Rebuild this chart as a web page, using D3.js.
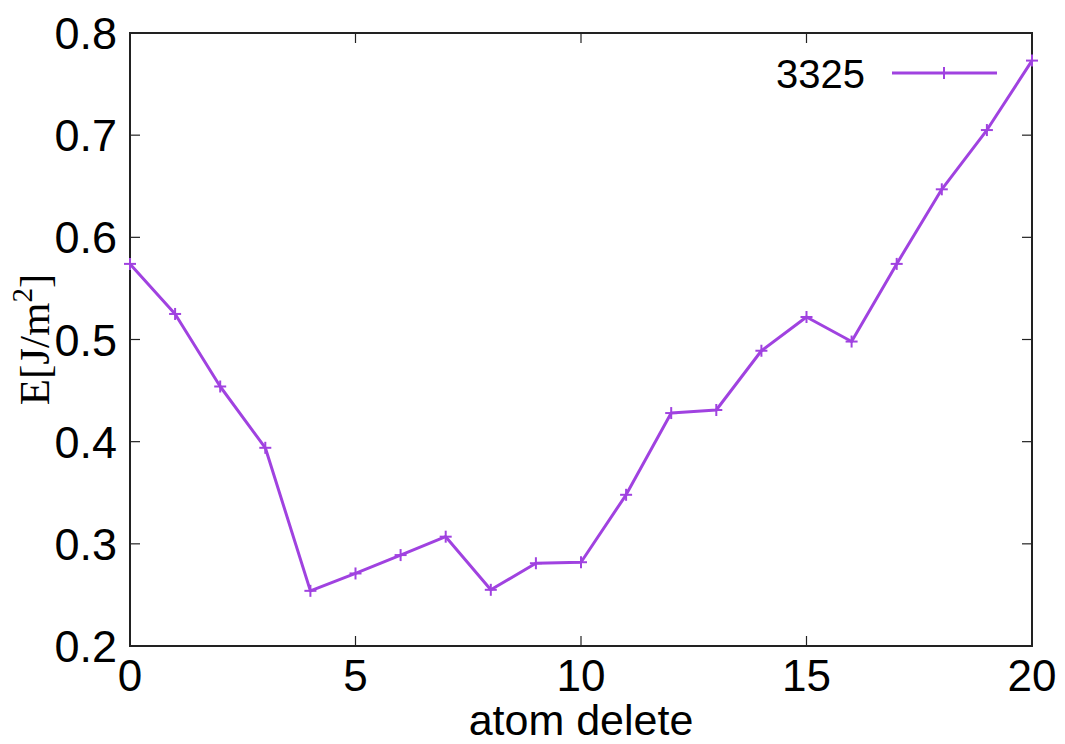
<!DOCTYPE html>
<html>
<head>
<meta charset="utf-8">
<title>atom delete</title>
<script src="https://d3js.org/d3.v7.min.js"></script>
<style>
  body { margin: 0; background: #fff; }
  text { font-family: "Liberation Sans", Arial, sans-serif; fill: #000; }
</style>
</head>
<body>
<script>
// values
var atomDelete = [0,1,2,3,4,5,6,7,8,9,10,11,12,13,14,15,16,17,18,19,20];
var energy = [0.574,0.525,0.454,0.394,0.254,0.271,0.289,0.307,0.255,0.281,0.282,
              0.348,0.428,0.431,0.489,0.522,0.498,0.574,0.647,0.705,0.773];
var xTicks = [0,5,10,15,20];
var yTicks = [0.2,0.3,0.4,0.5,0.6,0.7,0.8];
var seriesName = "3325";

var W = 1065, H = 744;
var pL = 130, pR = 1032, pT = 33, pB = 646;
var lineColor = "#a042e0";

var svg = d3.select("body").append("svg")
  .attr("width", W)
  .attr("height", H);

var x = d3.scaleLinear().domain([0,20]).range([pL, pR]);
var y = d3.scaleLinear().domain([0.2,0.8]).range([pB, pT]);

// ticks, inward and mirrored on all sides
var tk = 10;
var axisG = svg.append("g").attr("stroke", "#222").attr("stroke-width", 1.2);
xTicks.forEach(function(t){
  axisG.append("line").attr("x1", x(t)).attr("x2", x(t)).attr("y1", pB).attr("y2", pB - tk);
  axisG.append("line").attr("x1", x(t)).attr("x2", x(t)).attr("y1", pT).attr("y2", pT + tk);
});
yTicks.forEach(function(t){
  axisG.append("line").attr("x1", pL).attr("x2", pL + tk).attr("y1", y(t)).attr("y2", y(t));
  axisG.append("line").attr("x1", pR).attr("x2", pR - tk).attr("y1", y(t)).attr("y2", y(t));
});

svg.append("rect")
  .attr("x", pL).attr("y", pT)
  .attr("width", pR - pL).attr("height", pB - pT)
  .attr("fill", "none").attr("stroke", "#222").attr("stroke-width", 2);

// tick labels
svg.selectAll(".xl").data(xTicks).enter().append("text")
  .attr("x", function(d){ return x(d); })
  .attr("y", 691)
  .attr("text-anchor", "middle")
  .style("font-size", "44px")
  .text(function(d){ return d; });

svg.selectAll(".yl").data(yTicks).enter().append("text")
  .attr("x", 117)
  .attr("y", function(d){ return y(d) + 16; })
  .attr("text-anchor", "end")
  .style("font-size", "45px")
  .text(function(d){ return d.toFixed(1); });

// axis titles
svg.append("text")
  .attr("x", (pL + pR) / 2)
  .attr("y", 735)
  .attr("text-anchor", "middle")
  .style("font-size", "43px")
  .text("atom delete");

var yl = svg.append("text")
  .attr("transform", "translate(49," + ((pT + pB) / 2) + ") rotate(-90)")
  .attr("text-anchor", "middle")
  .style("font-family", "'Liberation Serif', 'Times New Roman', serif")
  .style("font-size", "43px");
yl.append("tspan").text("E[J/m");
yl.append("tspan").attr("dy", -17).style("font-size", "29px").text("2");
yl.append("tspan").attr("dy", 17).text("]");

// data line
var pts = atomDelete.map(function(a, i){ return [a, energy[i]]; });
var line = d3.line().x(function(d){ return x(d[0]); }).y(function(d){ return y(d[1]); });

svg.append("path")
  .datum(pts)
  .attr("d", line)
  .attr("fill", "none")
  .attr("stroke", lineColor)
  .attr("stroke-width", 3)
  .attr("stroke-linejoin", "round");

var ms = 6;
var marks = svg.append("g").attr("stroke", lineColor).attr("stroke-width", 2);
pts.forEach(function(p){
  var cx = x(p[0]), cy = y(p[1]);
  marks.append("line").attr("x1", cx - ms).attr("x2", cx + ms).attr("y1", cy).attr("y2", cy);
  marks.append("line").attr("x1", cx).attr("x2", cx).attr("y1", cy - ms).attr("y2", cy + ms);
});

// legend
svg.append("text")
  .attr("x", 865).attr("y", 88)
  .attr("text-anchor", "end")
  .style("font-size", "40px")
  .text(seriesName);
svg.append("line")
  .attr("x1", 892).attr("x2", 997).attr("y1", 73).attr("y2", 73)
  .attr("stroke", lineColor).attr("stroke-width", 3);
marks.append("line").attr("x1", 944).attr("x2", 944).attr("y1", 73 - ms).attr("y2", 73 + ms);
</script>
</body>
</html>
